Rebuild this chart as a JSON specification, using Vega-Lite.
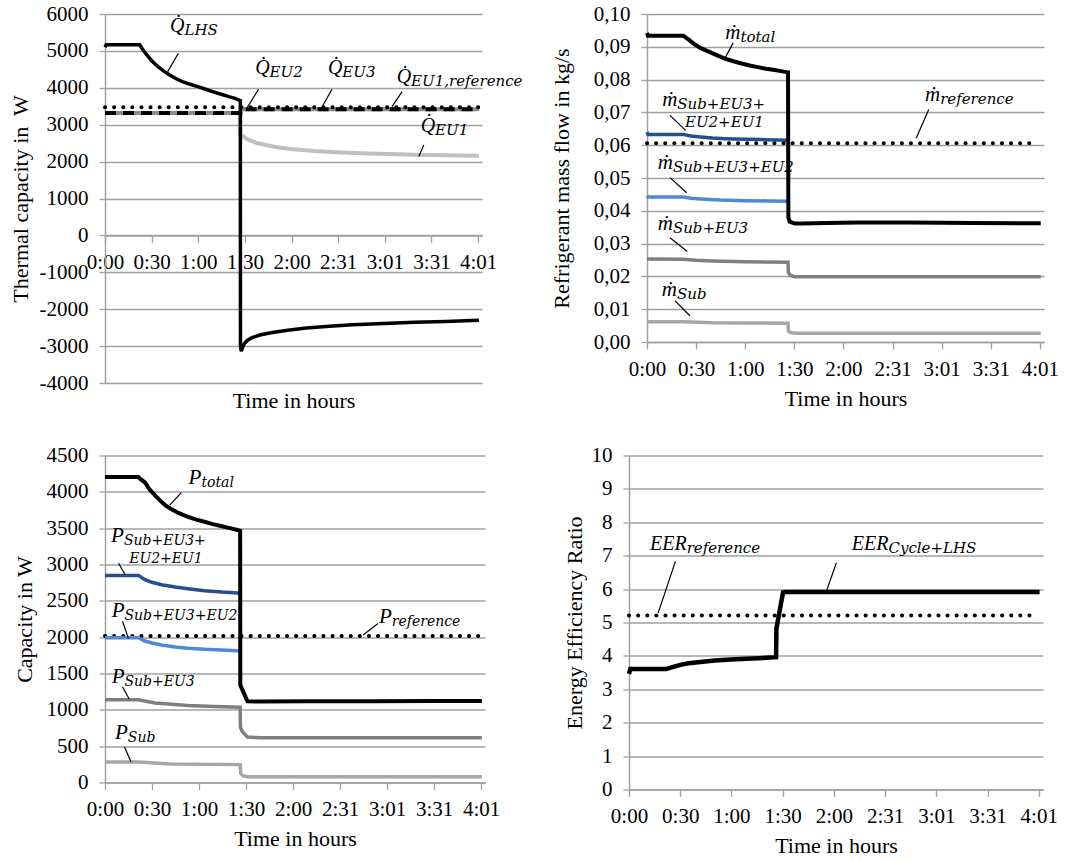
{
  "$schema": "https://vega.github.io/schema/vega-lite/v6.json",
  "background": "white",
  "padding": {"left": 9, "top": 3, "right": 5, "bottom": 3},
  "datasets": {
    "p1": [
      {"s":"LHS","t":0,"v":5100},{"s":"LHS","t":0.8,"v":5165},{"s":"LHS","t":22.4,"v":5165},{"s":"LHS","t":24.5,"v":5030},{"s":"LHS","t":27,"v":4890},{"s":"LHS","t":30,"v":4740},{"s":"LHS","t":34,"v":4580},{"s":"LHS","t":38,"v":4450},{"s":"LHS","t":42,"v":4340},{"s":"LHS","t":46,"v":4245},{"s":"LHS","t":50,"v":4170},{"s":"LHS","t":55,"v":4095},{"s":"LHS","t":60,"v":4030},{"s":"LHS","t":65,"v":3960},{"s":"LHS","t":70,"v":3890},{"s":"LHS","t":75,"v":3825},{"s":"LHS","t":80,"v":3760},{"s":"LHS","t":84,"v":3715},{"s":"LHS","t":87.4,"v":3650},{"s":"LHS","t":87.5,"v":-3000},{"s":"LHS","t":88,"v":-3140},{"s":"LHS","t":88.8,"v":-3040},{"s":"LHS","t":90,"v":-2930},{"s":"LHS","t":92,"v":-2840},{"s":"LHS","t":95,"v":-2770},{"s":"LHS","t":100,"v":-2700},{"s":"LHS","t":108,"v":-2630},{"s":"LHS","t":118,"v":-2570},{"s":"LHS","t":130,"v":-2510},{"s":"LHS","t":145,"v":-2460},{"s":"LHS","t":160,"v":-2420},{"s":"LHS","t":180,"v":-2385},{"s":"LHS","t":200,"v":-2355},{"s":"LHS","t":220,"v":-2330},{"s":"LHS","t":241.5,"v":-2300},
      {"s":"EU1","t":0,"v":3320},{"s":"EU1","t":87.4,"v":3320},{"s":"EU1","t":87.5,"v":2730},{"s":"EU1","t":89,"v":2690},{"s":"EU1","t":91,"v":2630},{"s":"EU1","t":94,"v":2565},{"s":"EU1","t":98,"v":2505},{"s":"EU1","t":103,"v":2455},{"s":"EU1","t":110,"v":2395},{"s":"EU1","t":120,"v":2340},{"s":"EU1","t":135,"v":2290},{"s":"EU1","t":150,"v":2255},{"s":"EU1","t":170,"v":2220},{"s":"EU1","t":200,"v":2185},{"s":"EU1","t":241.5,"v":2160},
      {"s":"EU3","t":0,"v":3320},{"s":"EU3","t":87.4,"v":3320},{"s":"EU3","t":87.6,"v":3420},{"s":"EU3","t":241.5,"v":3420},
      {"s":"EU2","t":0,"v":3320},{"s":"EU2","t":87.4,"v":3320},{"s":"EU2","t":87.6,"v":3420},{"s":"EU2","t":241.5,"v":3420},
      {"s":"ref","t":0,"v":3470},{"s":"ref","t":241.5,"v":3470}
    ],
    "p2": [
      {"s":"total","t":0,"v":0.0942},{"s":"total","t":0.6,"v":0.0934},{"s":"total","t":22.2,"v":0.0934},{"s":"total","t":25,"v":0.0924},{"s":"total","t":29.4,"v":0.0907},{"s":"total","t":33,"v":0.0896},{"s":"total","t":37.5,"v":0.0886},{"s":"total","t":42,"v":0.0876},{"s":"total","t":47.8,"v":0.0864},{"s":"total","t":53,"v":0.0856},{"s":"total","t":58,"v":0.0849},{"s":"total","t":63,"v":0.0843},{"s":"total","t":68,"v":0.0838},{"s":"total","t":73,"v":0.0833},{"s":"total","t":78.4,"v":0.0829},{"s":"total","t":83,"v":0.0825},{"s":"total","t":86.5,"v":0.0822},{"s":"total","t":86.7,"v":0.038},{"s":"total","t":87.5,"v":0.0367},{"s":"total","t":90.6,"v":0.0361},{"s":"total","t":95,"v":0.0361},{"s":"total","t":110,"v":0.0363},{"s":"total","t":130,"v":0.0364},{"s":"total","t":160,"v":0.0364},{"s":"total","t":200,"v":0.0363},{"s":"total","t":241.5,"v":0.0362},
      {"s":"ref","t":0,"v":0.0606},{"s":"ref","t":239.6,"v":0.0606},
      {"s":"s4","t":0,"v":0.064},{"s":"s4","t":0.6,"v":0.0633},{"s":"s4","t":22.2,"v":0.0633},{"s":"s4","t":27,"v":0.0628},{"s":"s4","t":33,"v":0.0625},{"s":"s4","t":40,"v":0.0622},{"s":"s4","t":48,"v":0.062},{"s":"s4","t":60,"v":0.0618},{"s":"s4","t":70,"v":0.0617},{"s":"s4","t":80,"v":0.0616},{"s":"s4","t":86.5,"v":0.0615},
      {"s":"s3","t":0,"v":0.0446},{"s":"s3","t":0.6,"v":0.0442},{"s":"s3","t":22.2,"v":0.0442},{"s":"s3","t":27,"v":0.0438},{"s":"s3","t":33,"v":0.0436},{"s":"s3","t":45,"v":0.0433},{"s":"s3","t":60,"v":0.0431},{"s":"s3","t":75,"v":0.043},{"s":"s3","t":86.5,"v":0.0429},
      {"s":"s2","t":0,"v":0.0253},{"s":"s2","t":22.2,"v":0.0252},{"s":"s2","t":30,"v":0.0249},{"s":"s2","t":40,"v":0.0247},{"s":"s2","t":60,"v":0.0245},{"s":"s2","t":86.5,"v":0.0243},{"s":"s2","t":86.7,"v":0.0212},{"s":"s2","t":88,"v":0.0203},{"s":"s2","t":90.6,"v":0.0199},{"s":"s2","t":241.5,"v":0.0199},
      {"s":"s1","t":0,"v":0.0062},{"s":"s1","t":22.2,"v":0.0062},{"s":"s1","t":40,"v":0.0059},{"s":"s1","t":60,"v":0.0058},{"s":"s1","t":86.5,"v":0.0057},{"s":"s1","t":86.7,"v":0.0034},{"s":"s1","t":88,"v":0.0029},{"s":"s1","t":90.6,"v":0.0027},{"s":"s1","t":241.5,"v":0.0027}
    ],
    "p3": [
      {"s":"total","t":0,"v":4204},{"s":"total","t":21.4,"v":4204},{"s":"total","t":23,"v":4170},{"s":"total","t":25.6,"v":4130},{"s":"total","t":28,"v":4050},{"s":"total","t":30,"v":3998},{"s":"total","t":33,"v":3930},{"s":"total","t":36.2,"v":3862},{"s":"total","t":39,"v":3810},{"s":"total","t":42.6,"v":3761},{"s":"total","t":47,"v":3710},{"s":"total","t":53.2,"v":3657},{"s":"total","t":58,"v":3620},{"s":"total","t":63.7,"v":3588},{"s":"total","t":69,"v":3555},{"s":"total","t":74.3,"v":3529},{"s":"total","t":80,"v":3500},{"s":"total","t":84.9,"v":3474},{"s":"total","t":86.6,"v":3465},{"s":"total","t":86.7,"v":1340},{"s":"total","t":91.3,"v":1117},{"s":"total","t":100,"v":1115},{"s":"total","t":130,"v":1117},{"s":"total","t":170,"v":1118},{"s":"total","t":210,"v":1120},{"s":"total","t":241.5,"v":1122},
      {"s":"s4","t":0,"v":2850},{"s":"s4","t":21.4,"v":2850},{"s":"s4","t":25.6,"v":2790},{"s":"s4","t":30,"v":2755},{"s":"s4","t":36.2,"v":2722},{"s":"s4","t":45,"v":2690},{"s":"s4","t":53.2,"v":2667},{"s":"s4","t":63.7,"v":2640},{"s":"s4","t":75,"v":2620},{"s":"s4","t":84.9,"v":2608},{"s":"s4","t":86.6,"v":2600},
      {"s":"s3","t":0,"v":1992},{"s":"s3","t":21.4,"v":1992},{"s":"s3","t":25.6,"v":1947},{"s":"s3","t":30,"v":1920},{"s":"s3","t":36.2,"v":1892},{"s":"s3","t":45,"v":1865},{"s":"s3","t":53.2,"v":1847},{"s":"s3","t":63.7,"v":1833},{"s":"s3","t":75,"v":1825},{"s":"s3","t":86.6,"v":1810},
      {"s":"ref","t":0,"v":2015},{"s":"ref","t":241,"v":2015},
      {"s":"s2","t":0,"v":1140},{"s":"s2","t":21.4,"v":1140},{"s":"s2","t":32,"v":1094},{"s":"s2","t":53.2,"v":1058},{"s":"s2","t":70,"v":1045},{"s":"s2","t":86.6,"v":1035},{"s":"s2","t":86.8,"v":760},{"s":"s2","t":88,"v":700},{"s":"s2","t":91.3,"v":625},{"s":"s2","t":100,"v":615},{"s":"s2","t":241.5,"v":615},
      {"s":"s1","t":0,"v":283},{"s":"s1","t":21.4,"v":283},{"s":"s1","t":42.6,"v":255},{"s":"s1","t":86.6,"v":246},{"s":"s1","t":87,"v":123},{"s":"s1","t":88.5,"v":90},{"s":"s1","t":91.3,"v":78},{"s":"s1","t":241.5,"v":78}
    ],
    "p4": [
      {"s":"eer","t":0,"v":3.46},{"s":"eer","t":0.8,"v":3.61},{"s":"eer","t":22,"v":3.61},{"s":"eer","t":26,"v":3.67},{"s":"eer","t":30.8,"v":3.74},{"s":"eer","t":35,"v":3.78},{"s":"eer","t":40.6,"v":3.81},{"s":"eer","t":50.4,"v":3.86},{"s":"eer","t":60,"v":3.89},{"s":"eer","t":66,"v":3.91},{"s":"eer","t":75.9,"v":3.93},{"s":"eer","t":86.5,"v":3.96},{"s":"eer","t":86.7,"v":4.82},{"s":"eer","t":90.6,"v":5.9},{"s":"eer","t":92,"v":5.915},{"s":"eer","t":241.5,"v":5.915},
      {"s":"ref","t":0,"v":5.21},{"s":"ref","t":238.6,"v":5.21}
    ],
    "ann": [
      {"p":"p1","t":51.3,"v":5507,"main":"Q̇","sub":"LHS"},
      {"p":"p1","t":106.3,"v":4377,"main":"Q̇","sub":"EU2"},
      {"p":"p1","t":153.3,"v":4377,"main":"Q̇","sub":"EU3"},
      {"p":"p1","t":197.7,"v":4122,"main":"Q̇","sub":"EU1,reference"},
      {"p":"p1","t":213.2,"v":2814,"main":"Q̇","sub":"EU1"},
      {"p":"p2","t":57.3,"v":0.0924,"main":"ṁ","sub":"total"},
      {"p":"p2","t":179.8,"v":0.0734,"main":"ṁ","sub":"reference"},
      {"p":"p2","t":18.6,"v":0.072,"main":"ṁ","sub":"Sub+EU3+"},
      {"p":"p2","t":23.3,"v":0.0664,"main":"","sub":"EU2+EU1"},
      {"p":"p2","t":15.9,"v":0.0528,"main":"ṁ","sub":"Sub+EU3+EU2"},
      {"p":"p2","t":15.9,"v":0.0341,"main":"ṁ","sub":"Sub+EU3"},
      {"p":"p2","t":18.4,"v":0.0141,"main":"ṁ","sub":"Sub"},
      {"p":"p3","t":61.8,"v":4112,"main":"P","sub":"total"},
      {"p":"p3","t":12.1,"v":3310,"main":"P","sub":"Sub+EU3+"},
      {"p":"p3","t":15.5,"v":3060,"main":"","sub":"EU2+EU1"},
      {"p":"p3","t":12.5,"v":2275,"main":"P","sub":"Sub+EU3+EU2"},
      {"p":"p3","t":183.8,"v":2198,"main":"P","sub":"reference"},
      {"p":"p3","t":12.5,"v":1363,"main":"P","sub":"Sub+EU3"},
      {"p":"p3","t":14.6,"v":602,"main":"P","sub":"Sub"},
      {"p":"p4","t":33.9,"v":7.17,"main":"EER","sub":"reference"},
      {"p":"p4","t":152.6,"v":7.17,"main":"EER","sub":"Cycle+LHS"}
    ],
    "lead": [
      {"p":"p1","t":47.4,"v":4935,"t2":40.5,"v2":4438},
      {"p":"p1","t":99.2,"v":3960,"t2":91.6,"v2":3446},
      {"p":"p1","t":146.6,"v":3960,"t2":140.1,"v2":3472},
      {"p":"p1","t":191.9,"v":3898,"t2":185.4,"v2":3492},
      {"p":"p1","t":205.9,"v":2453,"t2":202.7,"v2":2137},
      {"p":"p2","t":52.9,"v":0.0912,"t2":47.3,"v2":0.0861},
      {"p":"p2","t":172.8,"v":0.0709,"t2":165.1,"v2":0.0621},
      {"p":"p2","t":14.1,"v":0.0691,"t2":23.7,"v2":0.0645},
      {"p":"p2","t":14.1,"v":0.0501,"t2":24.3,"v2":0.0455},
      {"p":"p2","t":14.1,"v":0.0318,"t2":24.7,"v2":0.0276},
      {"p":"p2","t":17.1,"v":0.0126,"t2":26.3,"v2":0.008},
      {"p":"p3","t":48.9,"v":3989,"t2":41.5,"v2":3816},
      {"p":"p3","t":8.7,"v":3018,"t2":12.9,"v2":2859},
      {"p":"p3","t":11.2,"v":2220,"t2":15.0,"v2":1983},
      {"p":"p3","t":174.9,"v":2188,"t2":165.4,"v2":2029},
      {"p":"p3","t":11.2,"v":1318,"t2":15.5,"v2":1149},
      {"p":"p3","t":12.5,"v":488,"t2":16.7,"v2":283},
      {"p":"p4","t":27.3,"v":6.83,"t2":17.1,"v2":5.28},
      {"p":"p4","t":122.0,"v":6.79,"t2":116.1,"v2":5.94}
    ]
  },
  "spacing": 441.5,
  "bounds": "flush",
  "vconcat": [
    {
      "spacing": 165,
      "bounds": "flush",
      "hconcat": [
        {
          "width": 377, "height": 369,
          "encoding": {
            "x": {"field":"t","type":"quantitative","scale":{"domain":[0,243.5],"nice":false,"zero":false},
                  "axis":{"values":[0,30.125,60.25,90.375,120.5,150.625,180.75,210.875,241],"labelExpr":"['0:00','0:30','1:00','1:30','2:00','2:31','3:01','3:31','4:01'][round(datum.value/30.125)]","title":"Time in hours","offset":-147.6,"titlePadding":118}},
            "y": {"field":"v","type":"quantitative","scale":{"domain":[-4000,6000],"nice":false,"zero":false},
                  "axis":{"values":[-4000,-3000,-2000,-1000,0,1000,2000,3000,4000,5000,6000],"labelExpr":"datum.value < 0 ? '-' + (-datum.value) : '' + datum.value","title":"Thermal capacity in\u00a0 W","titlePadding":7}}
          },
          "layer": [
            {"data":{"name":"p1"},"transform":[{"filter":"datum.s=='EU1'"}],"mark":{"type":"line","color":"#bfbfbf","strokeWidth":4}},
            {"data":{"name":"p1"},"transform":[{"filter":"datum.s=='EU3'"}],"mark":{"type":"line","color":"#8c8c8c","strokeWidth":4}},
            {"data":{"name":"p1"},"transform":[{"filter":"datum.s=='EU2'"}],"mark":{"type":"line","color":"#000000","strokeWidth":4,"strokeDash":[11,7]}},
            {"data":{"name":"p1"},"transform":[{"filter":"datum.s=='ref'"}],"mark":{"type":"line","color":"#000000","strokeWidth":4,"strokeDash":[0.1,9],"strokeCap":"round"}},
            {"data":{"name":"p1"},"transform":[{"filter":"datum.s=='LHS'"}],"mark":{"type":"line","color":"#000000","strokeWidth":3.5}},
            {"data":{"name":"lead"},"transform":[{"filter":"datum.p=='p1'"}],"mark":{"type":"rule","color":"#000000","strokeWidth":1.2},"encoding":{"x2":{"field":"t2"},"y2":{"field":"v2"}}},
            {"data":{"name":"ann"},"transform":[{"filter":"datum.p=='p1'"}],"mark":{"type":"text","align":"right","baseline":"alphabetic","font":"Liberation Serif","fontStyle":"italic","fontSize":20,"color":"#000000"},"encoding":{"text":{"field":"main"}}},
            {"data":{"name":"ann"},"transform":[{"filter":"datum.p=='p1'"}],"mark":{"type":"text","align":"left","baseline":"alphabetic","dy":3,"font":"DejaVu Serif","fontStyle":"italic","fontSize":15,"color":"#000000"},"encoding":{"text":{"field":"sub"}}}
          ]
        },
        {
          "width": 397, "height": 328,
          "encoding": {
            "x": {"field":"t","type":"quantitative","scale":{"domain":[0,243.5],"nice":false,"zero":false},
                  "axis":{"values":[0,30.125,60.25,90.375,120.5,150.625,180.75,210.875,241],"labelExpr":"['0:00','0:30','1:00','1:30','2:00','2:31','3:01','3:31','4:01'][round(datum.value/30.125)]","title":"Time in hours"}},
            "y": {"field":"v","type":"quantitative","scale":{"domain":[0,0.1],"nice":false,"zero":false},
                  "axis":{"values":[0,0.01,0.02,0.03,0.04,0.05,0.06,0.07,0.08,0.09,0.1],"labelExpr":"replace(format(datum.value, '.2f'), '.', ',')","title":"Refrigerant mass flow in kg/s","titlePadding":20}}
          },
          "layer": [
            {"data":{"name":"p2"},"transform":[{"filter":"datum.s=='s1'"}],"mark":{"type":"line","color":"#a6a6a6","strokeWidth":3.5}},
            {"data":{"name":"p2"},"transform":[{"filter":"datum.s=='s2'"}],"mark":{"type":"line","color":"#7f7f7f","strokeWidth":3.5}},
            {"data":{"name":"p2"},"transform":[{"filter":"datum.s=='s3'"}],"mark":{"type":"line","color":"#4f89d6","strokeWidth":3.5}},
            {"data":{"name":"p2"},"transform":[{"filter":"datum.s=='s4'"}],"mark":{"type":"line","color":"#234f8c","strokeWidth":3.5}},
            {"data":{"name":"p2"},"transform":[{"filter":"datum.s=='ref'"}],"mark":{"type":"line","color":"#000000","strokeWidth":4,"strokeDash":[0.1,9],"strokeCap":"round"}},
            {"data":{"name":"p2"},"transform":[{"filter":"datum.s=='total'"}],"mark":{"type":"line","color":"#000000","strokeWidth":4}},
            {"data":{"name":"lead"},"transform":[{"filter":"datum.p=='p2'"}],"mark":{"type":"rule","color":"#000000","strokeWidth":1.2},"encoding":{"x2":{"field":"t2"},"y2":{"field":"v2"}}},
            {"data":{"name":"ann"},"transform":[{"filter":"datum.p=='p2'"}],"mark":{"type":"text","align":"right","baseline":"alphabetic","font":"Liberation Serif","fontStyle":"italic","fontSize":21,"color":"#000000"},"encoding":{"text":{"field":"main"}}},
            {"data":{"name":"ann"},"transform":[{"filter":"datum.p=='p2'"}],"mark":{"type":"text","align":"left","baseline":"alphabetic","dy":3,"font":"DejaVu Serif","fontStyle":"italic","fontSize":15,"color":"#000000"},"encoding":{"text":{"field":"sub"}}}
          ]
        }
      ]
    },
    {
      "spacing": 144,
      "bounds": "flush",
      "hconcat": [
        {
          "width": 380, "height": 327,
          "encoding": {
            "x": {"field":"t","type":"quantitative","scale":{"domain":[0,243.5],"nice":false,"zero":false},
                  "axis":{"values":[0,30.125,60.25,90.375,120.5,150.625,180.75,210.875,241],"labelExpr":"['0:00','0:30','1:00','1:30','2:00','2:31','3:01','3:31','4:01'][round(datum.value/30.125)]","title":"Time in hours"}},
            "y": {"field":"v","type":"quantitative","scale":{"domain":[0,4500],"nice":false,"zero":false},
                  "axis":{"values":[0,500,1000,1500,2000,2500,3000,3500,4000,4500],"labelExpr":"'' + datum.value","title":"Capacity in W","titlePadding":10}}
          },
          "layer": [
            {"data":{"name":"p3"},"transform":[{"filter":"datum.s=='s1'"}],"mark":{"type":"line","color":"#a6a6a6","strokeWidth":3.5}},
            {"data":{"name":"p3"},"transform":[{"filter":"datum.s=='s2'"}],"mark":{"type":"line","color":"#7f7f7f","strokeWidth":3.5}},
            {"data":{"name":"p3"},"transform":[{"filter":"datum.s=='ref'"}],"mark":{"type":"line","color":"#000000","strokeWidth":4,"strokeDash":[0.1,9],"strokeCap":"round"}},
            {"data":{"name":"p3"},"transform":[{"filter":"datum.s=='s3'"}],"mark":{"type":"line","color":"#4f89d6","strokeWidth":3.5}},
            {"data":{"name":"p3"},"transform":[{"filter":"datum.s=='s4'"}],"mark":{"type":"line","color":"#234f8c","strokeWidth":3.5}},
            {"data":{"name":"p3"},"transform":[{"filter":"datum.s=='total'"}],"mark":{"type":"line","color":"#000000","strokeWidth":4}},
            {"data":{"name":"lead"},"transform":[{"filter":"datum.p=='p3'"}],"mark":{"type":"rule","color":"#000000","strokeWidth":1.2},"encoding":{"x2":{"field":"t2"},"y2":{"field":"v2"}}},
            {"data":{"name":"ann"},"transform":[{"filter":"datum.p=='p3'"}],"mark":{"type":"text","align":"right","baseline":"alphabetic","font":"Liberation Serif","fontStyle":"italic","fontSize":21,"color":"#000000"},"encoding":{"text":{"field":"main"}}},
            {"data":{"name":"ann"},"transform":[{"filter":"datum.p=='p3'"}],"mark":{"type":"text","align":"left","baseline":"alphabetic","dy":3,"font":"DejaVu Serif","fontStyle":"italic","fontSize":14,"color":"#000000"},"encoding":{"text":{"field":"sub"}}}
          ]
        },
        {
          "width": 414, "height": 334,
          "encoding": {
            "x": {"field":"t","type":"quantitative","scale":{"domain":[0,243.5],"nice":false,"zero":false},
                  "axis":{"values":[0,30.125,60.25,90.375,120.5,150.625,180.75,210.875,241],"labelExpr":"['0:00','0:30','1:00','1:30','2:00','2:31','3:01','3:31','4:01'][round(datum.value/30.125)]","title":"Time in hours"}},
            "y": {"field":"v","type":"quantitative","scale":{"domain":[0,10],"nice":false,"zero":false},
                  "axis":{"values":[0,1,2,3,4,5,6,7,8,9,10],"labelExpr":"'' + datum.value","title":"Energy Efficiency Ratio","titlePadding":5}}
          },
          "layer": [
            {"data":{"name":"p4"},"transform":[{"filter":"datum.s=='ref'"}],"mark":{"type":"line","color":"#000000","strokeWidth":4,"strokeDash":[0.1,9],"strokeCap":"round"}},
            {"data":{"name":"p4"},"transform":[{"filter":"datum.s=='eer'"}],"mark":{"type":"line","color":"#000000","strokeWidth":4.5}},
            {"data":{"name":"lead"},"transform":[{"filter":"datum.p=='p4'"}],"mark":{"type":"rule","color":"#000000","strokeWidth":1.2},"encoding":{"x2":{"field":"t2"},"y2":{"field":"v2"}}},
            {"data":{"name":"ann"},"transform":[{"filter":"datum.p=='p4'"}],"mark":{"type":"text","align":"right","baseline":"alphabetic","font":"Liberation Serif","fontStyle":"italic","fontSize":20,"color":"#000000"},"encoding":{"text":{"field":"main"}}},
            {"data":{"name":"ann"},"transform":[{"filter":"datum.p=='p4'"}],"mark":{"type":"text","align":"left","baseline":"alphabetic","dy":3,"font":"DejaVu Serif","fontStyle":"italic","fontSize":15,"color":"#000000"},"encoding":{"text":{"field":"sub"}}}
          ]
        }
      ]
    }
  ],
  "config": {
    "view": {"stroke": null},
    "axis": {"labelFont":"Liberation Serif","labelFontSize":21,"labelColor":"#000000","titleFont":"Liberation Serif","titleFontSize":22,"titleFontWeight":"normal","titleColor":"#000000","tickColor":"#a0a0a0","tickWidth":1.3,"domainColor":"#a0a0a0","domainWidth":1.5,"gridColor":"#a0a0a0","gridWidth":1.3,"labelOverlap":false,"labelFlush":false,"labelBound":false,"tickSize":7},
    "axisX": {"grid": false, "labelPadding": 9, "titlePadding": 9},
    "axisY": {"grid": true, "labelPadding": 11, "tickSize": 6}
  }
}
